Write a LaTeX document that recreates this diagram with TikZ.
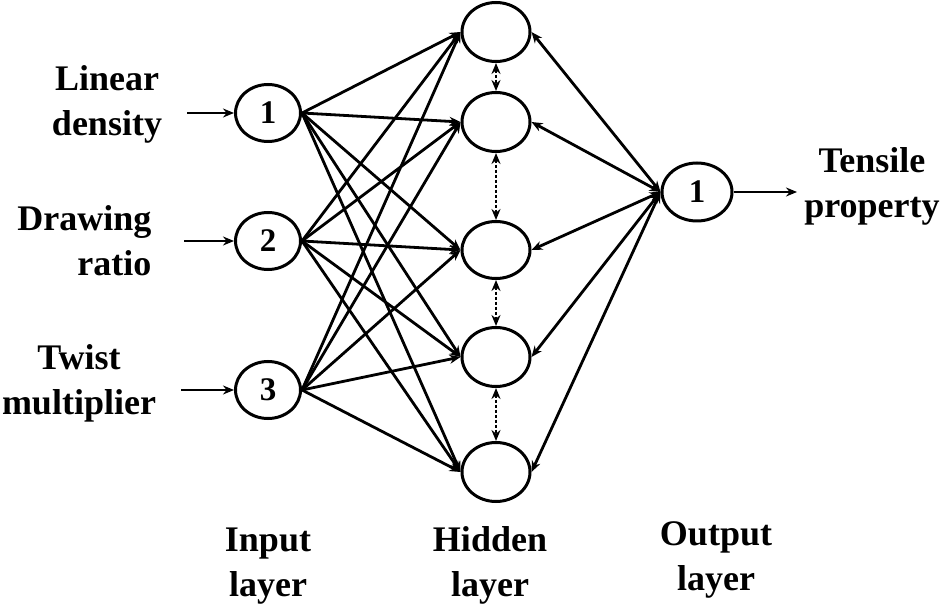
\documentclass[tikz,border=0pt]{standalone}
\usepackage{fontspec}
\setmainfont{Liberation Serif}
\usetikzlibrary{shapes.geometric,arrows.meta}

\begin{document}
\begin{tikzpicture}[x=1pt,y=-1pt,
  >={Stealth[length=11pt,width=9pt]},
  neuron/.style={ellipse,draw,line width=3pt,minimum width=65pt,minimum height=57pt,inner sep=0pt,font=\fontsize{33}{33}\selectfont\bfseries},
  wire/.style={->,line width=2.8pt},
  link/.style={<->,line width=2.8pt},
  lateral/.style={<->,line width=2pt,densely dashed},
  lbl/.style={font=\fontsize{36}{45}\selectfont\bfseries}]
\useasboundingbox (0,0) rectangle (944,609);

% Input layer
\node[neuron] (in1) at (268,113) {1};
\node[neuron] (in2) at (268,241) {2};
\node[neuron] (in3) at (268,390) {3};

% Hidden layer
\node[neuron,minimum width=68pt,minimum height=59pt] (hid1) at (496,32) {};
\node[neuron,minimum width=68pt,minimum height=59pt] (hid2) at (496,122) {};
\node[neuron,minimum width=68pt,minimum height=57pt] (hid3) at (496,250) {};
\node[neuron,minimum width=68pt,minimum height=59pt] (hid4) at (496,357) {};
\node[neuron,minimum width=68pt,minimum height=59pt] (hid5) at (496,472) {};

% Output layer
\node[neuron,minimum width=70pt,minimum height=58pt] (out1) at (697,192) {1};

% Free ends of the outer arrows
\coordinate (src1) at (187,113);
\coordinate (src2) at (184,241);
\coordinate (src3) at (181,390);
\coordinate (tgt) at (797,192);

% Inputs and output
\draw[wire] (src1) -- (in1.west);
\draw[wire] (src2) -- (in2.west);
\draw[wire] (src3) -- (in3.west);
\draw[wire] (out1.east) -- (tgt);

% Input to hidden
\draw[wire] (in1.east) -- (hid1.west); \draw[wire] (in1.east) -- (hid2.west); \draw[wire] (in1.east) -- (hid3.west); \draw[wire] (in1.east) -- (hid4.west); \draw[wire] (in1.east) -- (hid5.west);
\draw[wire] (in2.east) -- (hid1.west); \draw[wire] (in2.east) -- (hid2.west); \draw[wire] (in2.east) -- (hid3.west); \draw[wire] (in2.east) -- (hid4.west); \draw[wire] (in2.east) -- (hid5.west);
\draw[wire] (in3.east) -- (hid1.west); \draw[wire] (in3.east) -- (hid2.west); \draw[wire] (in3.east) -- (hid3.west); \draw[wire] (in3.east) -- (hid4.west); \draw[wire] (in3.east) -- (hid5.west);

% Hidden to output
\draw[link] (hid1.east) -- (out1.west);
\draw[link] (hid2.east) -- (out1.west);
\draw[link] (hid3.east) -- (out1.west);
\draw[link] (hid4.east) -- (out1.west);
\draw[link] (hid5.east) -- (out1.west);

% Lateral links in the hidden layer
\draw[lateral] (hid1.south) -- (hid2.north);
\draw[lateral] (hid2.south) -- (hid3.north);
\draw[lateral] (hid3.south) -- (hid4.north);
\draw[lateral] (hid4.south) -- (hid5.north);

% Variable labels
\node[lbl,align=center] (lin) at (107,104) {Linear\\density};
\node[lbl,align=right,anchor=east] (drw) at (155,241) {Drawing\\ratio};
\node[lbl,align=center] (twi) at (79,383) {Twist\\multiplier};
\node[lbl,align=center] (ten) at (872,186) {Tensile\\property};

% Layer labels
\node[lbl,align=center] (inl) at (268,566) {Input\\layer};
\node[lbl,align=center] (hidl) at (490,565) {Hidden\\layer};
\node[lbl,align=center] (outl) at (716,560) {Output\\layer};
\end{tikzpicture}
\end{document}
